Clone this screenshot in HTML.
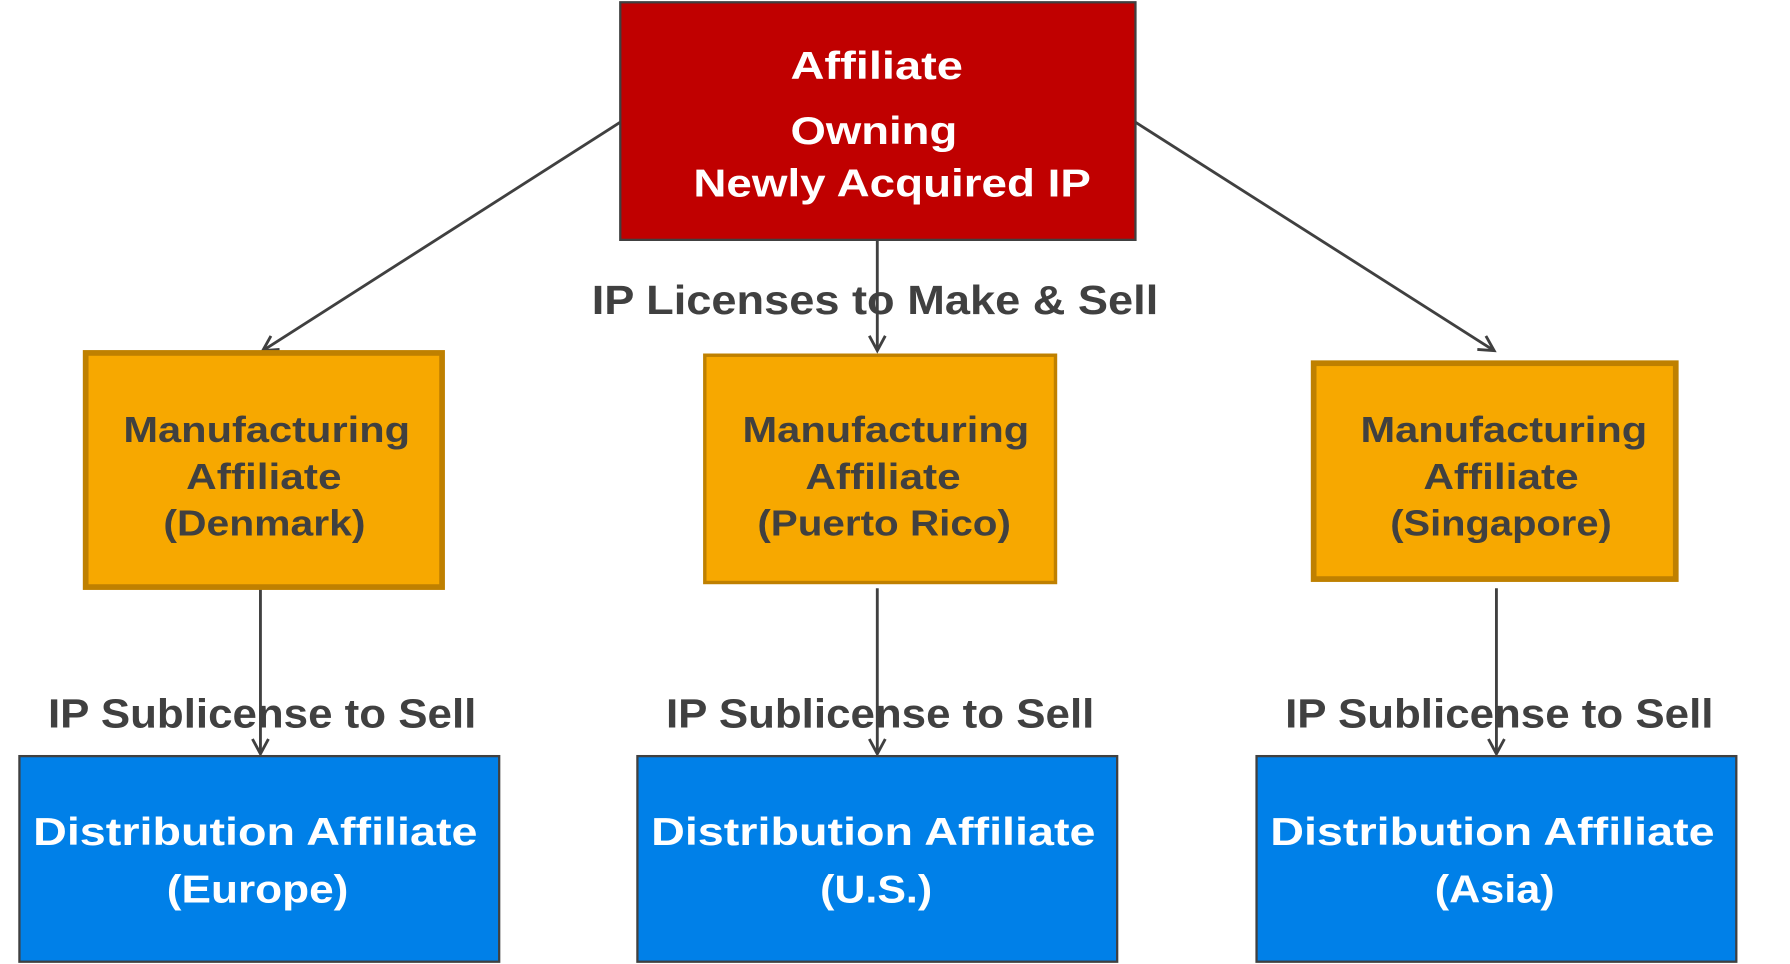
<!DOCTYPE html>
<html><head><meta charset="utf-8"><style>
html,body{margin:0;padding:0;background:#fff;}
svg{display:block;}
text{font-family:"Liberation Sans",sans-serif;font-weight:bold;}
</style></head><body>
<svg width="1790" height="964" viewBox="0 0 1567 844" preserveAspectRatio="none" xmlns="http://www.w3.org/2000/svg">
<defs>
<marker id="a" markerWidth="20" markerHeight="20" refX="15" refY="8" orient="auto" markerUnits="userSpaceOnUse">
<path d="M2,1 L15,8 L2,15" fill="none" stroke="#404040" stroke-width="2.5"/>
</marker>
</defs>
<g stroke="#404040" stroke-width="2.5" fill="none">
<line x1="543" y1="107" x2="230" y2="307" marker-end="url(#a)"/>
<line x1="768" y1="210" x2="768" y2="307" marker-end="url(#a)"/>
<line x1="994" y1="107" x2="1308" y2="307" marker-end="url(#a)"/>
<line x1="228" y1="515" x2="228" y2="660" marker-end="url(#a)"/>
<line x1="768" y1="515" x2="768" y2="660" marker-end="url(#a)"/>
<line x1="1310" y1="515" x2="1310" y2="660" marker-end="url(#a)"/>
</g>
<rect x="543" y="2" width="451" height="208" fill="#c00000" stroke="#404040" stroke-width="2"/>
<g fill="#fff" font-size="34">
<text x="692" y="69" textLength="151" lengthAdjust="spacingAndGlyphs">Affiliate</text>
<text x="692" y="126" textLength="146" lengthAdjust="spacingAndGlyphs">Owning</text>
<text x="607" y="172" textLength="348" lengthAdjust="spacingAndGlyphs">Newly Acquired IP</text>
</g>
<rect x="75" y="309" width="312" height="205" fill="#f7a800" stroke="#bf8000" stroke-width="5"/>
<rect x="617" y="311" width="307" height="199" fill="#f7a800" stroke="#bf8000" stroke-width="3"/>
<rect x="1150" y="318" width="317" height="189" fill="#f7a800" stroke="#bf8000" stroke-width="5"/>
<g fill="#404040" font-size="32">
<text x="108" y="387" textLength="251" lengthAdjust="spacingAndGlyphs">Manufacturing</text>
<text x="163" y="428" textLength="136" lengthAdjust="spacingAndGlyphs">Affiliate</text>
<text x="143" y="469" textLength="177" lengthAdjust="spacingAndGlyphs">(Denmark)</text>
<text x="650" y="387" textLength="251" lengthAdjust="spacingAndGlyphs">Manufacturing</text>
<text x="705" y="428" textLength="136" lengthAdjust="spacingAndGlyphs">Affiliate</text>
<text x="663" y="469" textLength="222" lengthAdjust="spacingAndGlyphs">(Puerto Rico)</text>
<text x="1191" y="387" textLength="251" lengthAdjust="spacingAndGlyphs">Manufacturing</text>
<text x="1246" y="428" textLength="136" lengthAdjust="spacingAndGlyphs">Affiliate</text>
<text x="1217" y="469" textLength="194" lengthAdjust="spacingAndGlyphs">(Singapore)</text>
</g>
<g fill="#404040" font-size="36">
<text x="518" y="275" textLength="496" lengthAdjust="spacingAndGlyphs">IP Licenses to  Make &amp; Sell</text>
<text x="42" y="637" textLength="375" lengthAdjust="spacingAndGlyphs">IP Sublicense to Sell</text>
<text x="583" y="637" textLength="375" lengthAdjust="spacingAndGlyphs">IP Sublicense to Sell</text>
<text x="1125" y="637" textLength="375" lengthAdjust="spacingAndGlyphs">IP Sublicense to Sell</text>
</g>
<g fill="#0080e8" stroke="#404040" stroke-width="2">
<rect x="17" y="662" width="420" height="180"/>
<rect x="558" y="662" width="420" height="180"/>
<rect x="1100" y="662" width="420" height="180"/>
</g>
<g fill="#fff" font-size="34">
<text x="29" y="740" textLength="389" lengthAdjust="spacingAndGlyphs">Distribution Affiliate</text>
<text x="146" y="790" textLength="159" lengthAdjust="spacingAndGlyphs">(Europe)</text>
<text x="570" y="740" textLength="389" lengthAdjust="spacingAndGlyphs">Distribution Affiliate</text>
<text x="718" y="790" textLength="98" lengthAdjust="spacingAndGlyphs">(U.S.)</text>
<text x="1112" y="740" textLength="389" lengthAdjust="spacingAndGlyphs">Distribution Affiliate</text>
<text x="1256" y="790" textLength="105" lengthAdjust="spacingAndGlyphs">(Asia)</text>
</g>
</svg>
</body></html>
